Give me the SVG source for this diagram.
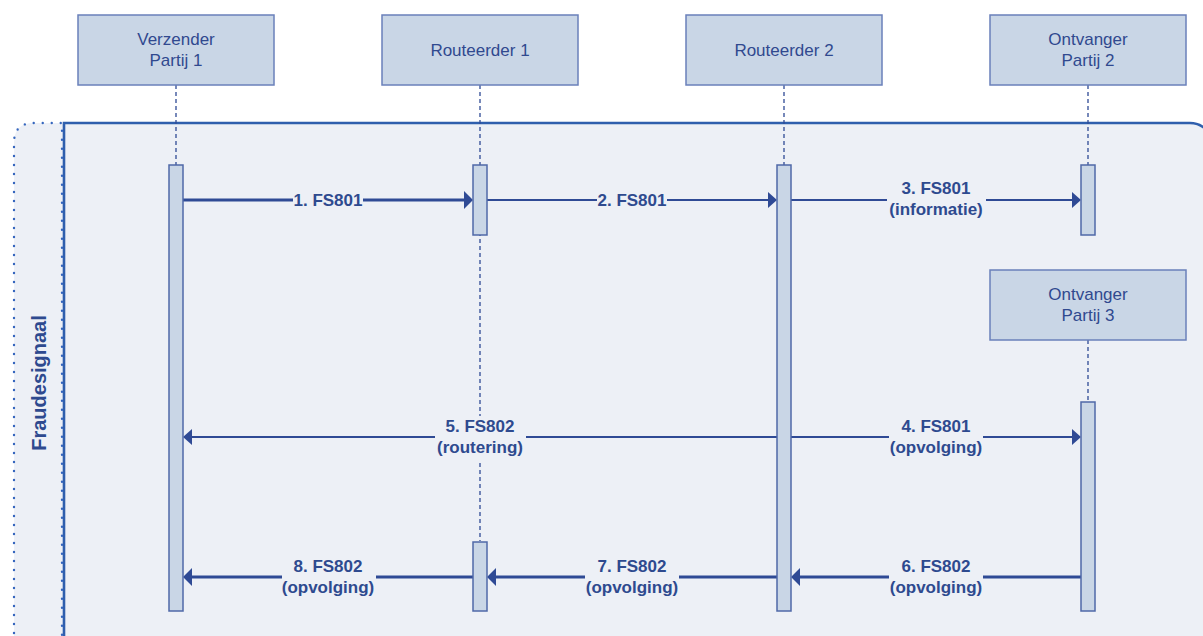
<svg xmlns="http://www.w3.org/2000/svg" width="1203" height="636" viewBox="0 0 1203 636">
<defs>
<style>
.node{fill:#c9d6e6;stroke:#6a80ba;stroke-width:1.5}
.ntxt{font-family:"Liberation Sans",Arial,sans-serif;font-size:17px;fill:#30498f;text-anchor:middle}
.life{stroke:#2f4a95;stroke-width:1.3;stroke-dasharray:4 3;fill:none}
.bar{fill:#c9d6e6;stroke:#4f68a8;stroke-width:1.5}
.thick{stroke:#2f4a95;stroke-width:3.2;fill:none}
.thin{stroke:#2f4a95;stroke-width:2;fill:none}
.lbl{font-family:"Liberation Sans",Arial,sans-serif;font-size:17px;font-weight:bold;fill:#2e4a8f;text-anchor:middle}
.lblbg{fill:#edf0f6}
.head{fill:#2f4a95}
</style>
</defs>
<rect width="1203" height="636" fill="#ffffff"/>
<g id="panel">
<path d="M14,660 L14,143 Q14,123 34,123 L64,123 L64,660 Z" fill="#edf0f6"/>
<path d="M64,660 L64,123 L1190,123 A23,23 0 0 1 1213,146 L1213,660 Z" fill="#edf0f6" stroke="#2f5fad" stroke-width="2.6"/>
<path d="M14,660 L14,143 Q14,123 34,123 L62,123 L62,660" fill="none" stroke="#3566be" stroke-width="2.4" stroke-linecap="round" stroke-dasharray="0 9"/>
<text x="0" y="0" transform="translate(46,383) rotate(-90)" font-family="Liberation Sans,Arial,sans-serif" font-size="20" font-weight="bold" fill="#2e4a8f" text-anchor="middle">Fraudesignaal</text>
</g>
<g id="lifelines">
<line class="life" x1="176" y1="85" x2="176" y2="165"/>
<line class="life" x1="480" y1="85" x2="480" y2="541"/>
<line class="life" x1="784" y1="85" x2="784" y2="165"/>
<line class="life" x1="1088" y1="85" x2="1088" y2="165"/>
<line class="life" x1="1088" y1="340" x2="1088" y2="402"/>
</g>
<g id="node-verzender">
<rect class="node" x="78" y="15" width="196" height="70"/>
<text class="ntxt" x="176" y="45">Verzender</text>
<text class="ntxt" x="176" y="66">Partij 1</text>
</g>
<g id="node-routeerder1">
<rect class="node" x="382" y="15" width="196" height="70"/>
<text class="ntxt" x="480" y="56">Routeerder 1</text>
</g>
<g id="node-routeerder2">
<rect class="node" x="686" y="15" width="196" height="70"/>
<text class="ntxt" x="784" y="56">Routeerder 2</text>
</g>
<g id="node-ontvanger2">
<rect class="node" x="990" y="15" width="196" height="70"/>
<text class="ntxt" x="1088" y="45">Ontvanger</text>
<text class="ntxt" x="1088" y="66">Partij 2</text>
</g>
<g id="node-ontvanger3">
<rect class="node" x="990" y="270" width="196" height="70"/>
<text class="ntxt" x="1088" y="300">Ontvanger</text>
<text class="ntxt" x="1088" y="321">Partij 3</text>
</g>
<g id="connectors">
<line class="thick" x1="183" y1="200" x2="465" y2="200"/>
<polygon class="head" points="473,200 464,191 464,209"/>
<line class="thin" x1="487" y1="200" x2="769" y2="200"/>
<polygon class="head" points="777,200 768,192 768,208"/>
<line class="thin" x1="791" y1="200" x2="1073" y2="200"/>
<polygon class="head" points="1081,200 1072,192 1072,208"/>
<line class="thin" x1="791" y1="437" x2="1073" y2="437"/>
<polygon class="head" points="1081,437 1072,429 1072,445"/>
<line class="thin" x1="777" y1="437" x2="191" y2="437"/>
<polygon class="head" points="183,437 192,429 192,445"/>
<line class="thick" x1="1081" y1="577" x2="799" y2="577"/>
<polygon class="head" points="791,577 800,568 800,586"/>
<line class="thick" x1="777" y1="577" x2="495" y2="577"/>
<polygon class="head" points="487,577 496,568 496,586"/>
<line class="thick" x1="473" y1="577" x2="191" y2="577"/>
<polygon class="head" points="183,577 192,568 192,586"/>
<rect class="lblbg" x="293" y="190" width="70" height="20"/>
<text class="lbl" x="328" y="206">1. FS801</text>
<rect class="lblbg" x="597" y="190" width="70" height="20"/>
<text class="lbl" x="632" y="206">2. FS801</text>
<rect class="lblbg" x="887" y="178" width="99" height="44"/>
<text class="lbl" x="936" y="194">3. FS801</text>
<text class="lbl" x="936" y="215">(informatie)</text>
<rect class="lblbg" x="889" y="416" width="94" height="44"/>
<text class="lbl" x="936" y="432">4. FS801</text>
<text class="lbl" x="936" y="453">(opvolging)</text>
<rect class="lblbg" x="435" y="416" width="91" height="44"/>
<text class="lbl" x="480" y="432">5. FS802</text>
<text class="lbl" x="480" y="453">(routering)</text>
<rect class="lblbg" x="889" y="556" width="94" height="44"/>
<text class="lbl" x="936" y="572">6. FS802</text>
<text class="lbl" x="936" y="593">(opvolging)</text>
<rect class="lblbg" x="585" y="556" width="94" height="44"/>
<text class="lbl" x="632" y="572">7. FS802</text>
<text class="lbl" x="632" y="593">(opvolging)</text>
<rect class="lblbg" x="282" y="556" width="94" height="44"/>
<text class="lbl" x="328" y="572">8. FS802</text>
<text class="lbl" x="328" y="593">(opvolging)</text>
</g>
<g id="activations">
<rect class="bar" x="169" y="165" width="14" height="446"/>
<rect class="bar" x="473" y="165" width="14" height="70"/>
<rect class="bar" x="473" y="542" width="14" height="69"/>
<rect class="bar" x="777" y="165" width="14" height="446"/>
<rect class="bar" x="1081" y="165" width="14" height="70"/>
<rect class="bar" x="1081" y="402" width="14" height="209"/>
</g>
</svg>
